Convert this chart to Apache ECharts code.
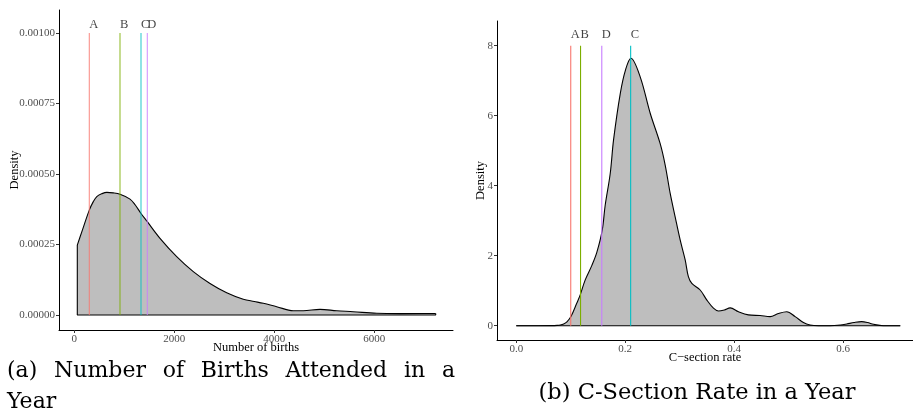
<!DOCTYPE html>
<html><head><meta charset="utf-8">
<script src="https://cdn.jsdelivr.net/npm/echarts@6/dist/echarts.min.js"></script>
<style>html,body{margin:0;padding:0;background:#fff}#c{width:913px;height:412px}</style>
</head><body><div id="c"></div>
<script>
// ---- Panel (a): number of births ----
const birthsX = [60, 150, 300, 380, 450, 550, 650, 780, 914, 1114, 1220, 1334, 1460, 1714, 2048, 2380, 2714, 3048, 3380, 3600, 3780, 4048, 4380, 4580, 4914, 5248, 5580, 6048, 6514, 7228];
const birthsDensity = [0.000248, 0.000295, 0.000372, 0.000402, 0.00042, 0.00043, 0.000435, 0.000433, 0.000428, 0.000411, 0.00039, 0.00036, 0.000331, 0.000272, 0.000207, 0.000154, 0.000112, 0.000079, 0.000056, 0.000048, 0.0000415, 0.0000295, 0.0000152, 0.0000152, 0.00002, 0.0000152, 0.0000117, 0.000006, 0.000005, 0.000005];
const birthsMarkerNames = ['A', 'B', 'C', 'D'];
const birthsMarkerX = [300, 914, 1334, 1460];
const birthsMarkerTop = 0.001;
const birthsXTicks = [0, 2000, 4000, 6000];
const birthsYTicks = [0, 0.00025, 0.0005, 0.00075, 0.001];

// ---- Panel (b): C-section rate ----
const csX = [0, 0.04, 0.065, 0.075, 0.0807, 0.087, 0.093, 0.1004, 0.111, 0.1174, 0.1266, 0.139, 0.148, 0.1578, 0.1633, 0.1725, 0.1786, 0.191, 0.2006, 0.2105, 0.2275, 0.2459, 0.2642, 0.2734, 0.2826, 0.2917, 0.3009, 0.3101, 0.316, 0.3223, 0.3376, 0.35, 0.362, 0.371, 0.382, 0.3927, 0.408, 0.426, 0.4477, 0.466, 0.4813, 0.4966, 0.512, 0.5272, 0.5394, 0.555, 0.576, 0.595, 0.6068, 0.62, 0.634, 0.645, 0.656, 0.674, 0.705];
const csDensity = [0, 0, 0.003, 0.01, 0.02, 0.05, 0.11, 0.26, 0.64, 0.88, 1.31, 1.73, 2.1, 2.73, 3.45, 4.35, 5.31, 6.64, 7.31, 7.64, 7.11, 6.07, 5.2, 4.59, 3.78, 3.11, 2.45, 1.88, 1.4, 1.21, 1.02, 0.73, 0.5, 0.42, 0.45, 0.51, 0.4, 0.31, 0.29, 0.26, 0.35, 0.4, 0.26, 0.09, 0.02, 0, 0, 0.02, 0.05, 0.09, 0.115, 0.09, 0.04, 0, 0];
const csMarkerNames = ['A', 'B', 'C', 'D'];
const csMarkerX = [0.1, 0.118, 0.21, 0.157];
const csMarkerTop = 8;
const csXTicks = [0, 0.2, 0.4, 0.6];
const csYTicks = [0, 2, 4, 6, 8];

const markerColors = ['#F8766D', '#7CAE00', '#00BFC4', '#C77CFF'];

// ---- Captions ----
const captionAWords = ['(a)', 'Number', 'of', 'Births', 'Attended', 'in', 'a'];
const captionALine2 = 'Year';
const captionB = '(b) C-Section Rate in a Year';

const SERIF = '"Liberation Serif", "Times New Roman", serif';
const CAP = '"DejaVu Serif", serif';
const CAP_FONT = '22px ' + CAP;

function zip(a, b) { return a.map((v, i) => [v, b[i]]); }

function axisCommon(ticks, fmt) {
  return {
    axisLine: { show: true, onZero: false, lineStyle: { color: '#000', width: 1 } },
    axisTick: { show: true, length: 3, lineStyle: { color: '#333' }, customValues: ticks },
    axisLabel: { show: true, customValues: ticks, formatter: fmt, color: '#4d4d4d', fontFamily: SERIF, fontSize: 11, margin: 4 },
    splitLine: { show: false }
  };
}

function panelSeries(idx, xs, ys, names, mx, top, colors, lineOpacity, labelOffset) {
  const s = [];
  s.push({
    type: 'line', xAxisIndex: idx, yAxisIndex: idx, data: zip(xs, ys), smooth: 0.35,
    symbol: 'none', lineStyle: { color: '#000', width: 1.1 },
    areaStyle: { color: '#BEBEBE', opacity: 1, origin: 0 }, z: 2
  });
  s.push({
    type: 'line', xAxisIndex: idx, yAxisIndex: idx,
    data: [[xs[0], ys[0]], [xs[0], 0], [xs[xs.length - 1], 0], [xs[xs.length - 1], ys[ys.length - 1]]],
    symbol: 'none', lineStyle: { color: '#000', width: 1.1 }, z: 3
  });
  names.forEach((n, i) => {
    s.push({
      type: 'line', xAxisIndex: idx, yAxisIndex: idx, data: [[mx[i], 0], [mx[i], top]],
      symbol: 'none', lineStyle: { color: colors[i], width: 1.1, opacity: lineOpacity }, z: 4
    });
  });
  s.push({
    type: 'scatter', xAxisIndex: idx, yAxisIndex: idx, symbolSize: 0,
    data: names.map((n, i) => ({ value: [mx[i], top], name: n })),
    label: { show: true, position: [0, 0], offset: [0, labelOffset], align: 'left', verticalAlign: 'middle',
      formatter: p => p.name, color: '#111', fontFamily: SERIF, fontSize: 12.5 }, z: 5
  });
  return s;
}

// justified first caption line between x=7 and x=455
const mctx = document.createElement('canvas').getContext('2d');
mctx.font = CAP_FONT;
const wWidths = captionAWords.map(w => mctx.measureText(w).width);
const lineL = 7, lineR = 455;
const gapA = (lineR - lineL - wWidths.reduce((a, b) => a + b, 0)) / (captionAWords.length - 1);
const graphics = [];
let cx = lineL;
captionAWords.forEach((w, i) => {
  graphics.push({ type: 'text', x: cx, y: 371, style: { text: w, font: CAP_FONT, fill: '#000', align: 'left', verticalAlign: 'middle' } });
  cx += wWidths[i] + gapA;
});
graphics.push({ type: 'text', x: lineL, y: 402, style: { text: captionALine2, font: CAP_FONT, fill: '#000', align: 'left', verticalAlign: 'middle' } });
graphics.push({ type: 'text', x: 697, y: 393, style: { text: captionB, font: '22.5px ' + CAP, fill: '#000', align: 'center', verticalAlign: 'middle' } });

const nameStyle = { color: '#000', fontFamily: SERIF, fontSize: 12.5 };

const chart = echarts.init(document.getElementById('c'), null, { renderer: 'canvas' });
chart.setOption({
  animation: false,
  backgroundColor: '#fff',
  grid: [
    { left: 59, top: 10, width: 394, height: 320 },
    { left: 497, top: 21, width: 416, height: 319 }
  ],
  xAxis: [
    Object.assign({ type: 'value', gridIndex: 0, min: -306, max: 7574,
      name: 'Number of births', nameLocation: 'middle', nameGap: 11, nameMoveOverlap: false,
      nameTextStyle: nameStyle },
      axisCommon(birthsXTicks, v => String(v))),
    Object.assign({ type: 'value', gridIndex: 1, min: -0.0354, max: 0.7284,
      name: 'C\u2212section rate', nameLocation: 'middle', nameGap: 11, nameMoveOverlap: false,
      nameTextStyle: nameStyle },
      axisCommon(csXTicks, v => v.toFixed(1)))
  ],
  yAxis: [
    Object.assign({ type: 'value', gridIndex: 0, min: -0.0000532, max: 0.0010816,
      name: 'Density', nameLocation: 'middle', nameGap: 38, nameRotate: 90, nameMoveOverlap: false,
      nameTextStyle: nameStyle },
      axisCommon(birthsYTicks, v => v.toFixed(5))),
    Object.assign({ type: 'value', gridIndex: 1, min: -0.4086, max: 8.706,
      name: 'Density', nameLocation: 'middle', nameGap: 10, nameRotate: 90, nameMoveOverlap: false,
      nameTextStyle: nameStyle },
      axisCommon(csYTicks, v => String(v)))
  ],
  series: [].concat(
    panelSeries(0, birthsX, birthsDensity, birthsMarkerNames, birthsMarkerX, birthsMarkerTop, markerColors, 0.8, -8),
    panelSeries(1, csX, csDensity, csMarkerNames, csMarkerX, csMarkerTop, markerColors, 1, -11)
  ),
  graphic: graphics
});
</script>
</body></html>
